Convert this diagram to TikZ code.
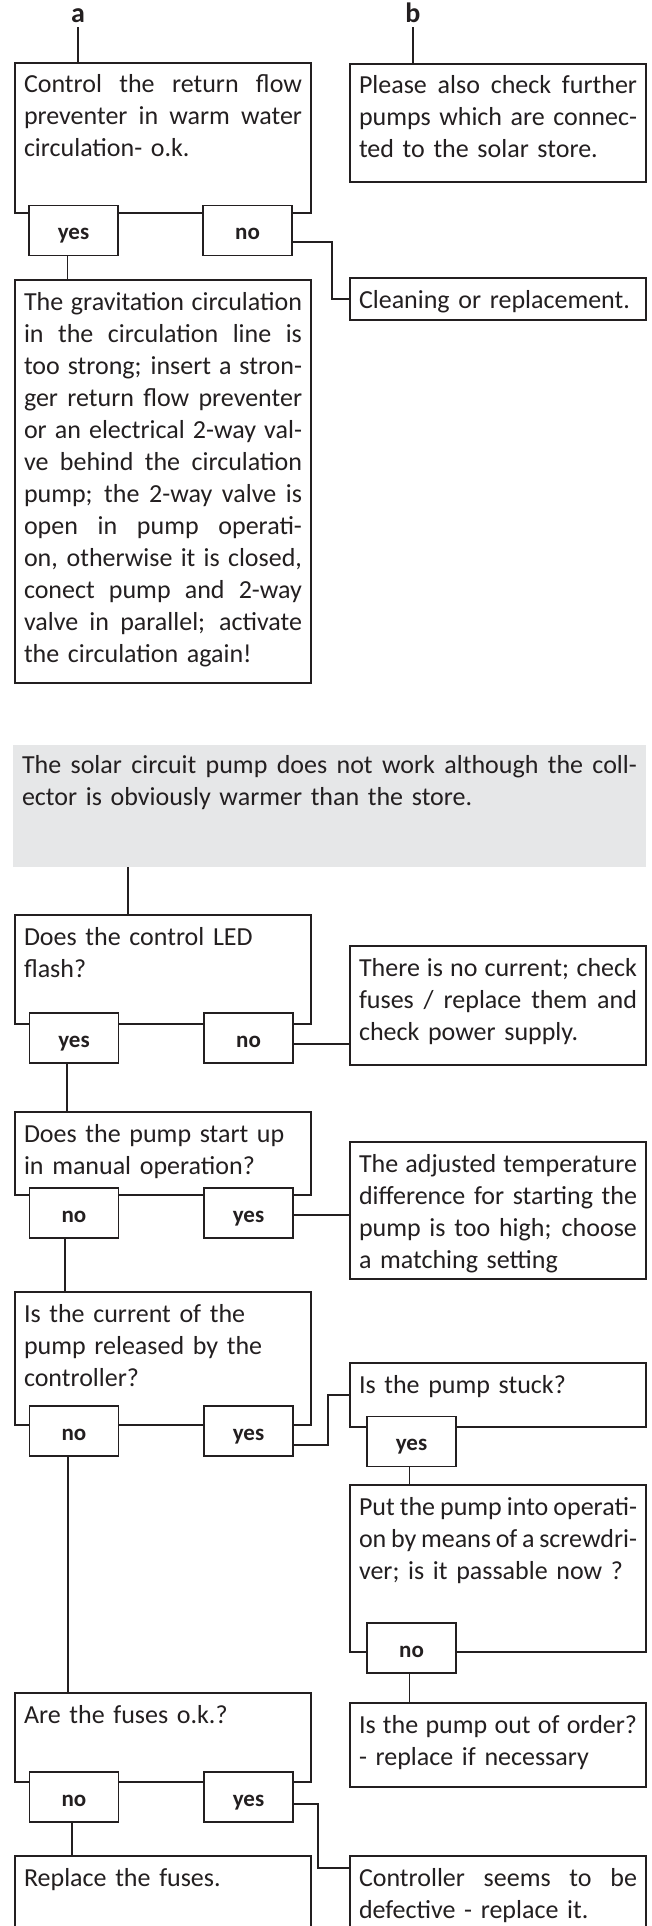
\documentclass[tikz,border=0pt]{standalone}
\usepackage{fontspec}
\setmainfont{Carlito}
\definecolor{ink}{RGB}{35,31,32}
\definecolor{panel}{RGB}{230,231,232}
\newcommand{\jl}[1]{{\spaceskip=0pt\xspaceskip=0pt\makebox[\hsize][s]{#1}}}
\tikzset{
  qbox/.style={draw=ink, line width=1.4pt, fill=white, anchor=north west, outer sep=0pt,
               minimum width=296pt, text width=278pt, inner xsep=9pt, inner ysep=8pt,
               text height=22pt, align=left, text=ink, font=\fontsize{26}{32}\selectfont},
  note/.style={qbox, draw=none, fill=panel, minimum width=633pt, text width=615pt,
               text height=20pt},
  yn/.style={draw=ink, line width=1.4pt, fill=white, minimum width=89pt, minimum height=50pt,
             inner sep=0pt, outer sep=0pt, text height=18pt, text depth=0pt, text=ink,
             font=\fontsize{23}{26}\selectfont\bfseries},
  lbl/.style={text=ink, font=\fontsize{28}{30}\selectfont\bfseries, anchor=base, inner sep=4pt},
  wire/.style={draw=ink, line width=1.4pt},
}
\begin{document}
\begin{tikzpicture}[x=1pt, y=-1pt]
  \useasboundingbox (0,0) rectangle (651,1926);

  % column a
  \node[lbl] (la) at (78,23) {a};
  \node[qbox, text depth=112pt] (a1) at (15,63)
    {\jl{Control the return flow}\\\jl{preventer in warm water}\\circulation- o.k.};
  \node[yn] (a1y) at (73.5,230.5) {yes};
  \node[yn] (a1n) at (247.5,230.5) {no};
  \node[qbox, text depth=365pt] (a2) at (15,280)
    {\jl{The gravitation circulation}\\\jl{in the circulation line is}\\
     \jl{too strong; insert a stron-}\\\jl{ger return flow preventer}\\
     \jl{or an electrical 2-way val-}\\\jl{ve behind the circulation}\\
     \jl{pump; the 2-way valve is}\\\jl{open in pump operati-}\\
     \jl{on, otherwise it is closed,}\\\jl{conect pump and 2-way}\\
     \jl{valve in parallel; activate}\\the circulation again!};

  % column b
  \node[lbl] (lb) at (413,23) {b};
  \node[qbox, text depth=80pt] (b1) at (350,64)
    {\jl{Please also check further}\\\jl{pumps which are connec-}\\ted to the solar store.};
  \node[qbox, text depth=4pt] (clean) at (350,278) {Cleaning or replacement.};

  \draw[wire] (la.south) -- (la.south |- a1.north);
  \draw[wire] (lb.south) -- (lb.south |- b1.north);
  \draw[wire] ([yshift=-11.5pt]a1n.east) -| ([xshift=-18pt]clean.west) -- (clean.west);
  \draw[wire] ([xshift=-6pt]a1y.south) -- ([xshift=-6pt]a1y.south |- a2.north);

  % solar circuit pump does not work
  \node[note, text depth=86pt] (sol) at (13,745)
    {\jl{The solar circuit pump does not work although the coll-}\\ector is obviously warmer than the store.};
  \node[qbox, text depth=71pt] (q1) at (15,915) {Does the control LED\\flash?};
  \node[yn] (q1y) at (74,1038) {yes};
  \node[yn] (q1n) at (248.5,1038) {no};
  \node[qbox, text depth=81pt] (cur) at (350,946)
    {\jl{There is no current; check}\\\jl{fuses / replace them and}\\check power supply.};

  \node[qbox, text depth=45pt] (q2) at (15,1112) {Does the pump start up\\in manual operation?};
  \node[yn] (q2n) at (74,1213) {no};
  \node[yn] (q2y) at (248.5,1213) {yes};
  \node[qbox, text depth=99pt] (adj) at (350,1142)
    {\jl{The adjusted temperature}\\\jl{difference for starting the}\\
     \jl{pump is too high; choose}\\a matching setting};

  \node[qbox, text depth=95pt] (q3) at (15,1292) {Is the current of the\\pump released by the\\controller?};
  \node[yn] (q3n) at (74,1431) {no};
  \node[yn] (q3y) at (248.5,1431) {yes};
  \node[qbox, text depth=26pt] (stuck) at (350,1363) {Is the pump stuck?};
  \node[yn] (sy) at (411.5,1441.5) {yes};
  \node[qbox, text depth=129pt] (put) at (350,1485)
    {\jl{Put the pump into operati-}\\\jl{on by means of a screwdri-}\\ver; is it passable now ?};
  \node[yn] (pn) at (411.5,1648) {no};
  \node[qbox, text depth=46pt] (out) at (350,1703)
    {\jl{Is the pump out of order?}\\- replace if necessary};

  \node[qbox, text depth=51pt] (q4) at (15,1693) {Are the fuses o.k.?};
  \node[yn] (q4n) at (74,1797) {no};
  \node[yn] (q4y) at (248.5,1797) {yes};
  \node[qbox, text depth=62pt] (repl) at (15,1856) {Replace the fuses.};
  \node[qbox, text depth=62pt] (ctrl) at (350,1856)
    {\jl{Controller seems to be}\\defective - replace it.};

  \draw[wire] ([xshift=115pt]sol.south west) -- ([xshift=115pt]sol.south west |- q1.north);
  \draw[wire] ([yshift=-6pt]q1n.east) -- ([yshift=-6pt]q1n.east -| cur.west);
  \draw[wire] ([xshift=-7pt]q1y.south) -- ([xshift=-7pt]q1y.south |- q2.north);
  \draw[wire] ([yshift=-2pt]q2y.east) -- ([yshift=-2pt]q2y.east -| adj.west);
  \draw[wire] ([xshift=-9pt]q2n.south) -- ([xshift=-9pt]q2n.south |- q3.north);
  \draw[wire] ([yshift=-14pt]q3y.east) -| ([xshift=-22pt]stuck.west) -- (stuck.west);
  \draw[wire] ([xshift=-6pt]q3n.south) -- ([xshift=-6pt]q3n.south |- q4.north);
  \draw[wire] ([xshift=-2pt]sy.south) -- ([xshift=-2pt]sy.south |- put.north);
  \draw[wire] ([xshift=-2pt]pn.south) -- ([xshift=-2pt]pn.south |- out.north);
  \draw[wire] ([xshift=-2pt]q4n.south) -- ([xshift=-2pt]q4n.south |- repl.north);
  \draw[wire] ([yshift=-7pt]q4y.east) -| ([xshift=-32pt,yshift=-12pt]ctrl.north west)
    -- ([yshift=-12pt]ctrl.north west);
\end{tikzpicture}
\end{document}
